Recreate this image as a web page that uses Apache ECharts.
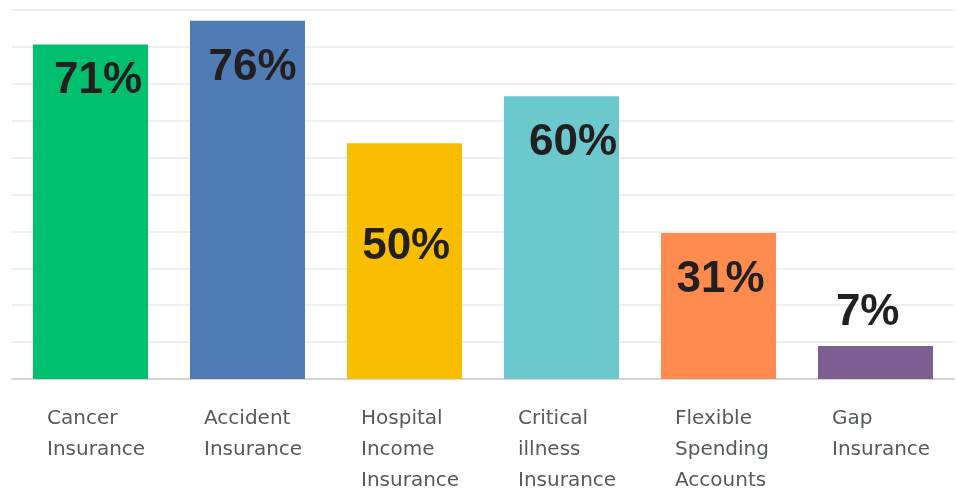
<!DOCTYPE html>
<html>
<head>
<meta charset="utf-8">
<script src="https://cdn.jsdelivr.net/npm/echarts@6/dist/echarts.min.js"></script>
<style>
  html, body { margin: 0; padding: 0; background: #fff; }
  #chart { width: 957px; height: 491px; }
</style>
</head>
<body>
<div id="chart"></div>
<script>
  // data
  const categories = [
    ['Cancer', 'Insurance'],
    ['Accident', 'Insurance'],
    ['Hospital', 'Income', 'Insurance'],
    ['Critical', 'illness', 'Insurance'],
    ['Flexible', 'Spending', 'Accounts'],
    ['Gap', 'Insurance']
  ]
  const values = [71, 76, 50, 60, 31, 7]
  const barColors = ['#00bf6f', '#507cb6', '#f9be00', '#6bc8cd', '#ff8b4f', '#7d5e90']

  // where each percent label sits, relative to the bar's top-left corner
  const labelNudge = [[7.5, 36.5], [5, 47], [1.7, 103], [11.6, 46.5], [2, 47], [-7.8, -33]]

  const yMax = 78.3

  const chart = echarts.init(document.getElementById('chart'))

  const options = {
    animation: false,
    grid: {
      left: 12,
      right: 3,
      top: 10,
      bottom: 112,
      containLabel: false
    },
    xAxis: {
      type: 'category',
      data: categories.map(c => c.join('\n')),
      axisTick: { show: false },
      axisLine: {
        show: true,
        lineStyle: { color: '#d4d4d4', width: 2 }
      },
      axisLabel: {
        interval: 0,
        margin: 24,
        align: 'center',
        verticalAlign: 'top',
        formatter: function(v) {
          return v.split('\n').map(s => '{t|' + s + '}').join('\n')
        },
        rich: {
          t: {
            width: 87,
            align: 'left',
            fontFamily: 'DejaVu Sans',
            fontSize: 20,
            lineHeight: 31,
            color: '#555a5e'
          }
        }
      }
    },
    yAxis: {
      type: 'value',
      min: 0,
      max: yMax,
      interval: yMax / 10,
      axisLabel: { show: false },
      axisLine: { show: false },
      axisTick: { show: false },
      splitLine: {
        show: true,
        lineStyle: { color: '#efefef', width: 2 }
      }
    },
    series: [{
      type: 'bar',
      barWidth: 115,
      data: values.map((v, i) => ({
        value: v,
        itemStyle: { color: barColors[i] },
        label: {
          position: [57.5 + labelNudge[i][0], labelNudge[i][1]]
        }
      })),
      label: {
        show: true,
        align: 'center',
        verticalAlign: 'middle',
        formatter: '{c}%',
        fontFamily: 'Liberation Sans',
        fontWeight: 'bold',
        fontSize: 44,
        color: '#231f20'
      }
    }]
  }

  chart.setOption(options, true)
</script>
</body>
</html>
